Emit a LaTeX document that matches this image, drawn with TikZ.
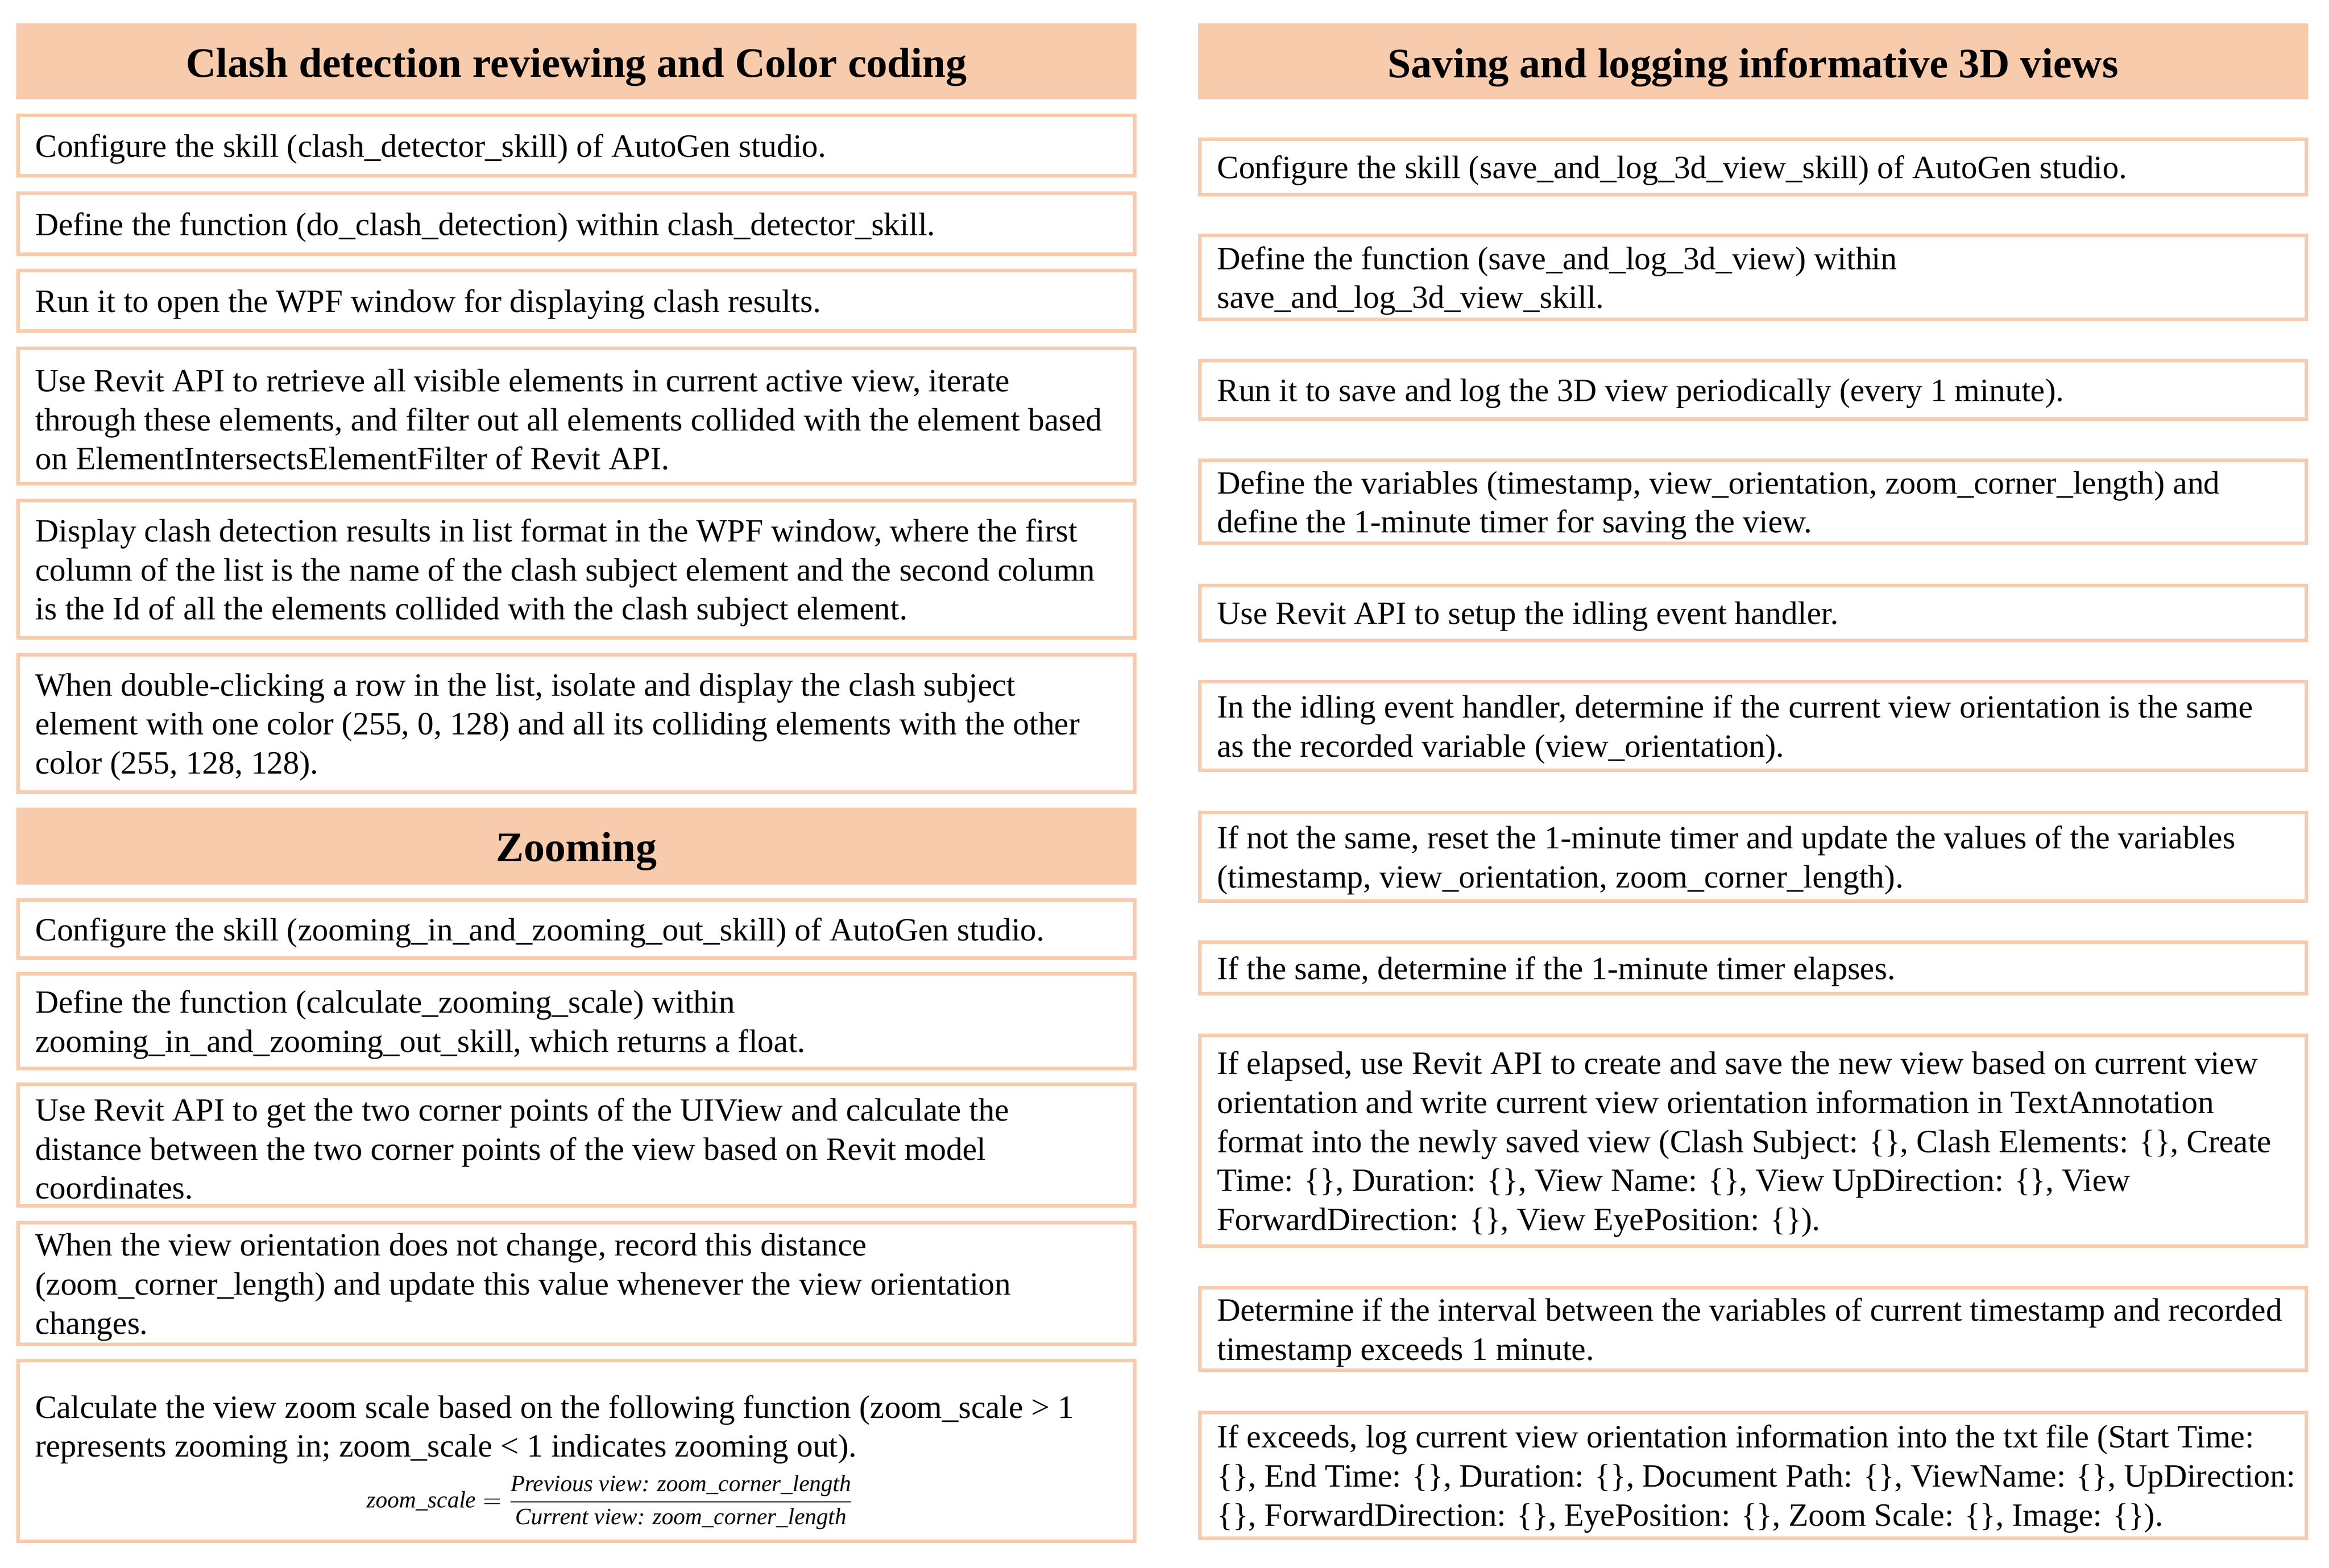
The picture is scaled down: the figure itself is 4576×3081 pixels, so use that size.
\documentclass[tikz,border=0pt]{standalone}
\usepackage{fontspec}
\setmainfont{Liberation Serif}
\definecolor{peach}{HTML}{F8CBAD}
\newcommand\tbox[6]{%
  \node[tb, minimum width={(#4-#2-7)*0.25pt}, minimum height={(#5-#3-7)*0.25pt}, anchor=north west] (#1) at (#2+3.5,#3+3.5) {};
  \node[tt, anchor=west] (#1t) at ([xshift=8.5pt,yshift=-1.75pt]#1.west) {#6};
}
\begin{document}
\begin{tikzpicture}[x=0.25pt,y=-0.25pt,
  tb/.style={draw=peach, line width=1.75pt, fill=white, inner sep=0pt, outer sep=0pt},
  tt/.style={inner sep=0pt, outer sep=0pt, align=left, font=\fontsize{15.95}{19.2}\selectfont},
  hd/.style={fill=peach, inner sep=0pt, outer sep=0pt},
  ht/.style={inner sep=0pt, outer sep=0pt, font=\fontsize{20.6}{24}\selectfont\bfseries},
  fm/.style={inner sep=0pt, font=\fontsize{11.5}{13}\selectfont}]
\useasboundingbox[fill=white] (0,0) rectangle (4576,3081);

% ---------- left column ----------
\node[hd, minimum width={2201*0.25pt}, minimum height={149*0.25pt}, anchor=north west] (h1) at (32,46) {};
\node[ht] (h1t) at ([yshift=-3pt]h1.center) {Clash detection reviewing and Color coding};
\tbox{l1}{32}{223}{2233}{349}{Configure the skill (clash\_detector\_skill) of AutoGen studio.}
\tbox{l2}{32}{376}{2233}{503}{Define the function (do\_clash\_detection) within clash\_detector\_skill.}
\tbox{l3}{32}{528}{2233}{654}{Run it to open the WPF window for displaying clash results.}
\tbox{l4}{32}{681}{2233}{954}{Use Revit API to retrieve all visible elements in current active view, iterate\\through these elements, and filter out all elements collided with the element based\\on ElementIntersectsElementFilter of Revit API.}
\tbox{l5}{32}{980}{2233}{1257}{Display clash detection results in list format in the WPF window, where the first\\column of the list is the name of the clash subject element and the second column\\is the Id of all the elements collided with the clash subject element.}
\tbox{l6}{32}{1283}{2233}{1560}{When double-clicking a row in the list, isolate and display the clash subject\\element with one color (255, 0, 128) and all its colliding elements with the other\\color (255, 128, 128).}
\node[hd, minimum width={2201*0.25pt}, minimum height={151*0.25pt}, anchor=north west] (h2) at (32,1587) {};
\node[ht] (h2t) at ([yshift=-2.5pt]h2.center) {Zooming};
\tbox{l7}{32}{1765}{2233}{1886}{Configure the skill (zooming\_in\_and\_zooming\_out\_skill) of AutoGen studio.}
\tbox{l8}{32}{1910}{2233}{2103}{Define the function (calculate\_zooming\_scale) within\\zooming\_in\_and\_zooming\_out\_skill, which returns a float.}
\tbox{l9}{32}{2127}{2233}{2373}{Use Revit API to get the two corner points of the UIView and calculate the\\distance between the two corner points of the view based on Revit model\\coordinates.}
\tbox{l10}{32}{2399}{2233}{2645}{When the view orientation does not change, record this distance\\(zoom\_corner\_length) and update this value whenever the view orientation\\changes.}
\node[tb, minimum width={(2201-7)*0.25pt}, minimum height={(362-7)*0.25pt}, anchor=north west] (l11) at (35.5,2673.5) {};
\node[tt, anchor=west] (l11t) at (69,2809) {Calculate the view zoom scale based on the following function (zoom\_scale > 1\\represents zooming in; zoom\_scale < 1 indicates zooming out).};
\node[fm] (l11f) at (1199,2952) {$\displaystyle\textit{zoom\_scale}=\frac{\textit{Previous view: zoom\_corner\_length}}{\textit{Current view: zoom\_corner\_length}}$};

% ---------- right column ----------
\node[hd, minimum width={2181*0.25pt}, minimum height={149*0.25pt}, anchor=north west] (h3) at (2354,46) {};
\node[ht] (h3t) at ([yshift=-3pt]h3.center) {Saving and logging informative 3D views};
\tbox{r1}{2354}{270}{4535}{386}{Configure the skill (save\_and\_log\_3d\_view\_skill) of AutoGen studio.}
\tbox{r2}{2354}{459}{4535}{631}{Define the function (save\_and\_log\_3d\_view) within\\save\_and\_log\_3d\_view\_skill.}
\tbox{r3}{2354}{705}{4535}{827}{Run it to save and log the 3D view periodically (every 1 minute).}
\tbox{r4}{2354}{901}{4535}{1071}{Define the variables (timestamp, view\_orientation, zoom\_corner\_length) and\\define the 1-minute timer for saving the view.}
\tbox{r5}{2354}{1147}{4535}{1262}{Use Revit API to setup the idling event handler.}
\tbox{r6}{2354}{1336}{4535}{1517}{In the idling event handler, determine if the current view orientation is the same\\as the recorded variable (view\_orientation).}
\tbox{r7}{2354}{1593}{4535}{1774}{If not the same, reset the 1-minute timer and update the values of the variables\\(timestamp, view\_orientation, zoom\_corner\_length).}
\tbox{r8}{2354}{1848}{4535}{1956}{If the same, determine if the 1-minute timer elapses.}
\tbox{r9}{2354}{2031}{4535}{2452}{If elapsed, use Revit API to create and save the new view based on current view\\orientation and write current view orientation information in TextAnnotation\\format into the newly saved view (Clash Subject: \{\}, Clash Elements: \{\}, Create\\Time: \{\}, Duration: \{\}, View Name: \{\}, View UpDirection: \{\}, View\\ForwardDirection: \{\}, View EyePosition: \{\}).}
\tbox{r10}{2354}{2527}{4535}{2696}{Determine if the interval between the variables of current timestamp and recorded\\timestamp exceeds 1 minute.}
\tbox{r11}{2354}{2772}{4535}{3026}{If exceeds, log current view orientation information into the txt file (Start Time:\\\{\}, End Time: \{\}, Duration: \{\}, Document Path: \{\}, ViewName: \{\}, UpDirection:\\\{\}, ForwardDirection: \{\}, EyePosition: \{\}, Zoom Scale: \{\}, Image: \{\}).}
\end{tikzpicture}
\end{document}
